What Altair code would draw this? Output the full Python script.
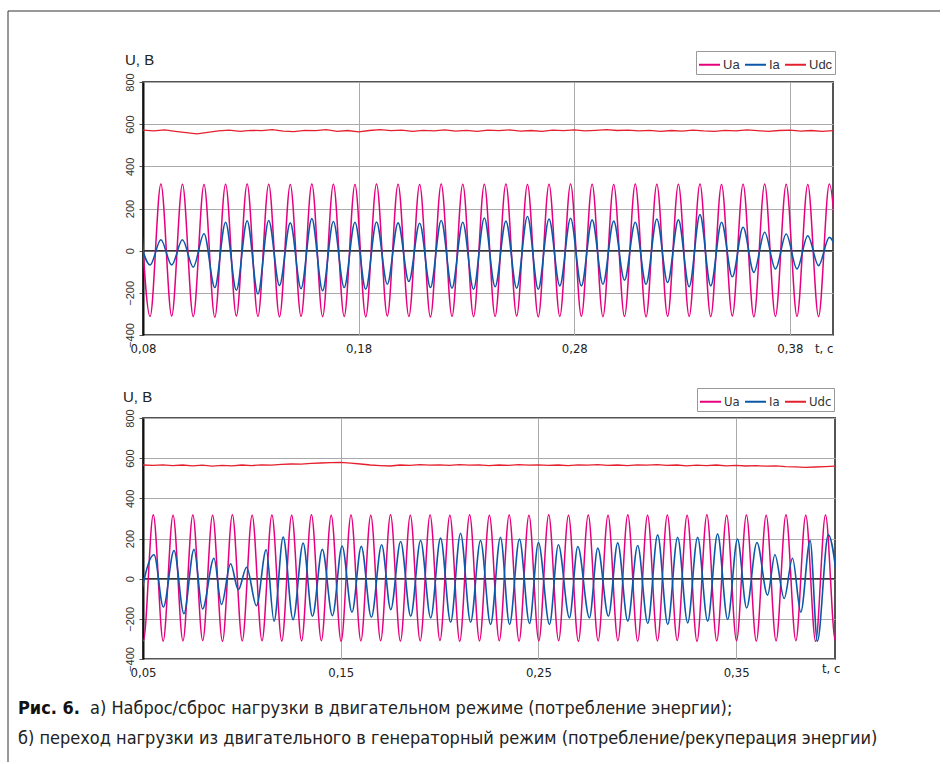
import altair as alt
import pandas as pd

# ---------------- data ----------------
series_names = ["Ua", "Ia", "Udc"]
series_colors = ["#e6007e", "#0b58a8", "#e5202e"]
y_ticks = [-400, -200, 0, 200, 400, 600, 800]

# ---- panel a (top) ----
top_domain = [0.08, 0.40]
top_ticks = [0.08, 0.18, 0.28, 0.38]

# times of the extrema (peak / trough alternating) of Ua and Ia, s
ext_top_t = [
    0.0783, 0.0833, 0.0883, 0.0933, 0.0983, 0.1033, 0.1083, 0.1133, 0.1183, 0.1233,
    0.1283, 0.1333, 0.1383, 0.1433, 0.1483, 0.1533, 0.1583, 0.1633, 0.1683, 0.1733,
    0.1783, 0.1833, 0.1883, 0.1933, 0.1983, 0.2033, 0.2083, 0.2133, 0.2183, 0.2233,
    0.2283, 0.2333, 0.2383, 0.2433, 0.2483, 0.2533, 0.2583, 0.2633, 0.2683, 0.2733,
    0.2783, 0.2833, 0.2883, 0.2933, 0.2983, 0.3033, 0.3083, 0.3133, 0.3183, 0.3233,
    0.3283, 0.3333, 0.3383, 0.3433, 0.3483, 0.3533, 0.3583, 0.3633, 0.3683, 0.3733,
    0.3783, 0.3833, 0.3883, 0.3933, 0.3983, 0.4033,
]
ua_top_v = [
    315, -312, 316, -310, 315, -313, 314, -316, 315, -310,
    316, -312, 315, -314, 314, -311, 316, -313, 315, -312,
    314, -314, 316, -310, 315, -312, 314, -315, 316, -311,
    315, -313, 315, -312, 316, -310, 314, -314, 315, -312,
    316, -311, 315, -313, 314, -312, 316, -314, 315, -311,
    315, -312, 316, -313, 314, -310, 315, -314, 316, -312,
    315, -311, 314, -313, 316, -312,
]
ia_top_v = [
    60,
    -68, 52, -68, 52, -78, 80, -175, 135, -188, 142,
    -205, 143, -165, 132, -180, 152, -190, 138, -175, 135,
    -183, 136, -159, 132, -146, 130, -175, 143, -178, 135,
    -183, 155, -171, 140, -178, 162, -183, 150, -167, 154,
    -167, 146, -159, 140, -140, 135, -159, 150, -151, 146,
    -171, 171, -167, 135, -124, 111, -103, 87, -87, 79,
    -87, 71, -71, 63,
    -60,
]
udc_top_t = [
    0.080, 0.085, 0.090, 0.095, 0.100, 0.105, 0.110, 0.115, 0.120, 0.125,
    0.130, 0.135, 0.140, 0.145, 0.150, 0.155, 0.160, 0.165, 0.170, 0.175,
    0.180, 0.185, 0.190, 0.195, 0.200, 0.205, 0.210, 0.215, 0.220, 0.225,
    0.230, 0.235, 0.240, 0.245, 0.250, 0.255, 0.260, 0.265, 0.270, 0.275,
    0.280, 0.285, 0.290, 0.295, 0.300, 0.305, 0.310, 0.315, 0.320, 0.325,
    0.330, 0.335, 0.340, 0.345, 0.350, 0.355, 0.360, 0.365, 0.370, 0.375,
    0.380, 0.385, 0.390, 0.395, 0.400,
]
udc_top_v = [
    572, 568, 573, 566, 560, 554, 561, 568, 572, 566,
    571, 569, 574, 567, 565, 571, 569, 574, 566, 570,
    563, 570, 574, 569, 572, 566, 571, 568, 573, 567,
    571, 566, 572, 569, 573, 567, 570, 566, 572, 569,
    573, 568, 571, 574, 570, 572, 568, 571, 566, 570,
    567, 572, 568, 566, 571, 568, 573, 569, 566, 570,
    572, 567, 570, 566, 569,
]

# ---- panel b (bottom) ----
bot_domain = [0.05, 0.40]
bot_ticks = [0.05, 0.15, 0.25, 0.35]

ua_bot_t = [
    0.0452, 0.0502, 0.0552, 0.0602, 0.0652, 0.0702, 0.0752, 0.0802, 0.0852, 0.0902,
    0.0952, 0.1002, 0.1052, 0.1102, 0.1152, 0.1202, 0.1252, 0.1302, 0.1352, 0.1402,
    0.1452, 0.1502, 0.1552, 0.1602, 0.1652, 0.1702, 0.1752, 0.1802, 0.1852, 0.1902,
    0.1952, 0.2002, 0.2052, 0.2102, 0.2152, 0.2202, 0.2252, 0.2302, 0.2352, 0.2402,
    0.2452, 0.2502, 0.2552, 0.2602, 0.2652, 0.2702, 0.2752, 0.2802, 0.2852, 0.2902,
    0.2952, 0.3002, 0.3052, 0.3102, 0.3152, 0.3202, 0.3252, 0.3302, 0.3352, 0.3402,
    0.3452, 0.3502, 0.3552, 0.3602, 0.3652, 0.3702, 0.3752, 0.3802, 0.3852, 0.3902,
    0.3952, 0.4002, 0.4052,
]
ua_bot_v = [
    316, -309, 318, -311, 316, -310, 317, -308, 316, -312,
    318, -310, 316, -309, 317, -311, 316, -310, 318, -309,
    316, -312, 317, -310, 316, -309, 318, -311, 316, -310,
    317, -308, 316, -312, 318, -310, 316, -309, 317, -311,
    316, -310, 318, -309, 316, -312, 317, -310, 316, -309,
    318, -311, 316, -310, 317, -308, 316, -312, 318, -310,
    316, -309, 317, -311, 316, -310, 318, -309, 316, -312,
    317, -310, 316,
]
ia_bot_t = [
    0.0475, 0.0556, 0.0603, 0.0657, 0.0707, 0.0758, 0.0801, 0.0859, 0.0897, 0.0943,
    0.0982, 0.1024, 0.1074, 0.1123, 0.1163, 0.1209, 0.1259, 0.1310, 0.1357, 0.1407,
    0.1458, 0.1507, 0.1557, 0.1604, 0.1655, 0.1707, 0.1753, 0.1803, 0.1854, 0.1904,
    0.1955, 0.2005, 0.2056, 0.2106, 0.2157, 0.2207, 0.2258, 0.2308, 0.2354, 0.2404,
    0.2455, 0.2500, 0.2556, 0.2601, 0.2657, 0.2699, 0.2758, 0.2800, 0.2854, 0.2901,
    0.2952, 0.3002, 0.3053, 0.3103, 0.3154, 0.3204, 0.3255, 0.3305, 0.3356, 0.3406,
    0.3457, 0.3507, 0.3553, 0.3605, 0.3659, 0.3696, 0.3743, 0.3785, 0.3827, 0.3874,
    0.3911, 0.3966, 0.4020,
]
ia_bot_v = [
    -150, 119, -141, 140, -174, 146, -151, 102, -129, 74,
    -55, 57, -135, 144, -212, 207, -204, 177, -187, 146,
    -184, 163, -167, 161, -192, 169, -154, 185, -187, 190,
    -195, 202, -217, 226, -217, 190, -228, 206, -228, 197,
    -223, 180, -228, 169, -195, 160, -195, 152, -187, 178,
    -212, 165, -223, 218, -228, 206, -220, 206, -212, 223,
    -203, 197, -146, 180, -82, 119, -99, 102, -167, 190,
    -311, 218, -80,
]
udc_bot_t = [
    0.050, 0.055, 0.060, 0.065, 0.070, 0.075, 0.080, 0.085, 0.090, 0.095,
    0.100, 0.105, 0.110, 0.115, 0.120, 0.125, 0.130, 0.135, 0.140, 0.145,
    0.150, 0.155, 0.160, 0.165, 0.170, 0.175, 0.180, 0.185, 0.190, 0.195,
    0.200, 0.205, 0.210, 0.215, 0.220, 0.225, 0.230, 0.235, 0.240, 0.245,
    0.250, 0.255, 0.260, 0.265, 0.270, 0.275, 0.280, 0.285, 0.290, 0.295,
    0.300, 0.305, 0.310, 0.315, 0.320, 0.325, 0.330, 0.335, 0.340, 0.345,
    0.350, 0.355, 0.360, 0.365, 0.370, 0.375, 0.380, 0.385, 0.390, 0.395,
    0.400,
]
udc_bot_v = [
    566, 564, 567, 563, 566, 562, 565, 560, 564, 562,
    566, 563, 567, 565, 569, 571, 570, 574, 576, 578,
    579, 575, 571, 566, 563, 561, 566, 564, 568, 565,
    567, 564, 568, 565, 567, 563, 566, 564, 568, 565,
    567, 564, 566, 563, 567, 565, 568, 564, 566, 563,
    567, 565, 568, 564, 566, 562, 565, 563, 566, 562,
    564, 561, 563, 560, 562, 558, 557, 554, 556, 558,
    560,
]

y_label = "U, В"
x_label = "t, c"
caption_bold = "Рис. 6."
caption_1 = "а) Наброс/сброс нагрузки в двигательном режиме (потребление энергии);"
caption_2 = "б) переход нагрузки из двигательного в генераторный режим (потребление/рекуперация энергии)"

# ---------------- styling ----------------
NARROW = "Liberation Sans Narrow, DejaVu Sans Condensed, Arial Narrow, sans-serif"
SANS = "Liberation Sans, Arial, Helvetica, sans-serif"
color_scale = alt.Scale(domain=series_names, range=series_colors)
one = pd.DataFrame({"a": [0]})


def make_legend(lx, ly, font):
    return alt.Legend(
        orient="none", legendX=lx, legendY=ly, direction="horizontal", title=None,
        symbolType="stroke", symbolSize=441, symbolStrokeWidth=2,
        labelFont=font, labelFontSize=13, labelColor="#333",
        strokeColor="#999", fillColor="white", padding=2,
        labelOffset=2, columnPadding=1,
    )


def panel(ua_t, ua_v, ia_t, ia_v, udc_t, udc_v, xdom, xticks, leg, ub_xy, tc_xy):
    xs = alt.Scale(domain=xdom, nice=False, zero=False)
    ys = alt.Scale(domain=[-400, 800], nice=False, zero=False)
    xax = alt.Axis(
        values=xticks, labelExpr="replace(format(datum.value, '.2f'), '.', ',')",
        grid=True, gridColor="#aaaaaa", gridWidth=1, ticks=False, domain=False,
        labelFont=NARROW, labelFontSize=13, labelColor="#222", labelPadding=7,
        labelFlush=False,
    )
    yax = alt.Axis(
        values=y_ticks, labelAngle=270, labelAlign="center", labelBaseline="bottom",
        grid=True, gridColor="#aaaaaa", gridWidth=1, tickSize=4, tickColor="#555",
        domainColor="#111", domainWidth=2, labelFont=SANS, labelFontSize=11,
        labelColor="#333", labelPadding=4, labelFlush=False,
    )
    X = alt.X("t:Q", scale=xs, axis=xax, title=None)
    Y = alt.Y("v:Q", scale=ys, axis=yax, title=None)
    C = alt.Color("s:N", scale=color_scale, legend=leg)

    df_udc = pd.DataFrame([{"t": t, "v": v, "s": "Udc"} for t, v in zip(udc_t, udc_v)])
    df_ua = pd.DataFrame([{"t": t, "v": v, "s": "Ua"} for t, v in zip(ua_t, ua_v)])
    df_ia = pd.DataFrame([{"t": t, "v": v, "s": "Ia"} for t, v in zip(ia_t, ia_v)])

    zero = alt.Chart(pd.DataFrame({"v": [0]})).mark_rule(
        color="#333", strokeWidth=1.5).encode(y=Y)
    udc = alt.Chart(df_udc).mark_line(strokeWidth=1.3, clip=True).encode(x=X, y=Y, color=C)
    ua = alt.Chart(df_ua).mark_line(strokeWidth=1.5, clip=True,
                                    interpolate="monotone").encode(x=X, y=Y, color=C)
    ia = alt.Chart(df_ia).mark_line(strokeWidth=1.6, clip=True,
                                    interpolate="monotone").encode(x=X, y=Y, color=C)
    ub = alt.Chart(one).mark_text(
        text=y_label, align="left", baseline="alphabetic", font=SANS,
        fontSize=15, color="#222").encode(x=alt.value(ub_xy[0]), y=alt.value(ub_xy[1]))
    tc = alt.Chart(one).mark_text(
        text=x_label, align="left", baseline="top", font=NARROW,
        fontSize=13, color="#222").encode(x=alt.value(tc_xy[0]), y=alt.value(tc_xy[1]))
    return [zero, udc, ua, ia, ub, tc]


# frame around the whole figure (drawn in the top panel's coordinates)
frame_left = alt.Chart(one).mark_rule(color="#333", strokeWidth=1).encode(
    x=alt.value(-135), y=alt.value(-71), y2=alt.value(680))
frame_top = alt.Chart(one).mark_rule(color="#333", strokeWidth=1).encode(
    x=alt.value(-135), x2=alt.value(797), y=alt.value(-71))

top_layers = panel(ext_top_t, ua_top_v, ext_top_t, ia_top_v, udc_top_t, udc_top_v,
                   top_domain, top_ticks, make_legend(553, -31, SANS), (-18, -17), (672, 261))
top = alt.layer(*top_layers, frame_left, frame_top).properties(width=690, height=253)

bot_layers = panel(ua_bot_t, ua_bot_v, ia_bot_t, ia_bot_v, udc_bot_t, udc_bot_v,
                   bot_domain, bot_ticks, make_legend(554, -30, NARROW), (-20, -16), (679, 245))
cap_b = alt.Chart(one).mark_text(
    text=caption_bold, align="left", baseline="alphabetic", font=NARROW,
    fontSize=18, fontWeight="bold", color="#111").encode(x=alt.value(-125), y=alt.value(296))
cap_1 = alt.Chart(one).mark_text(
    text=caption_1, align="left", baseline="alphabetic", font=NARROW,
    fontSize=18, color="#222").encode(x=alt.value(-53), y=alt.value(296))
cap_2 = alt.Chart(one).mark_text(
    text=caption_2, align="left", baseline="alphabetic", font=NARROW,
    fontSize=18, color="#222").encode(x=alt.value(-125), y=alt.value(326))
bottom = alt.layer(*bot_layers, cap_b, cap_1, cap_2).properties(width=692, height=241)

chart = (
    alt.vconcat(top, bottom, spacing=83, bounds="flush")
    .resolve_scale(color="independent")
    .resolve_legend(color="independent")
    .properties(padding={"left": 6, "top": 9, "right": 0, "bottom": 0})
    .configure_view(stroke="#555", strokeWidth=2)
)

chart.save("out.html", embed_options={"renderer": "svg", "actions": False})
